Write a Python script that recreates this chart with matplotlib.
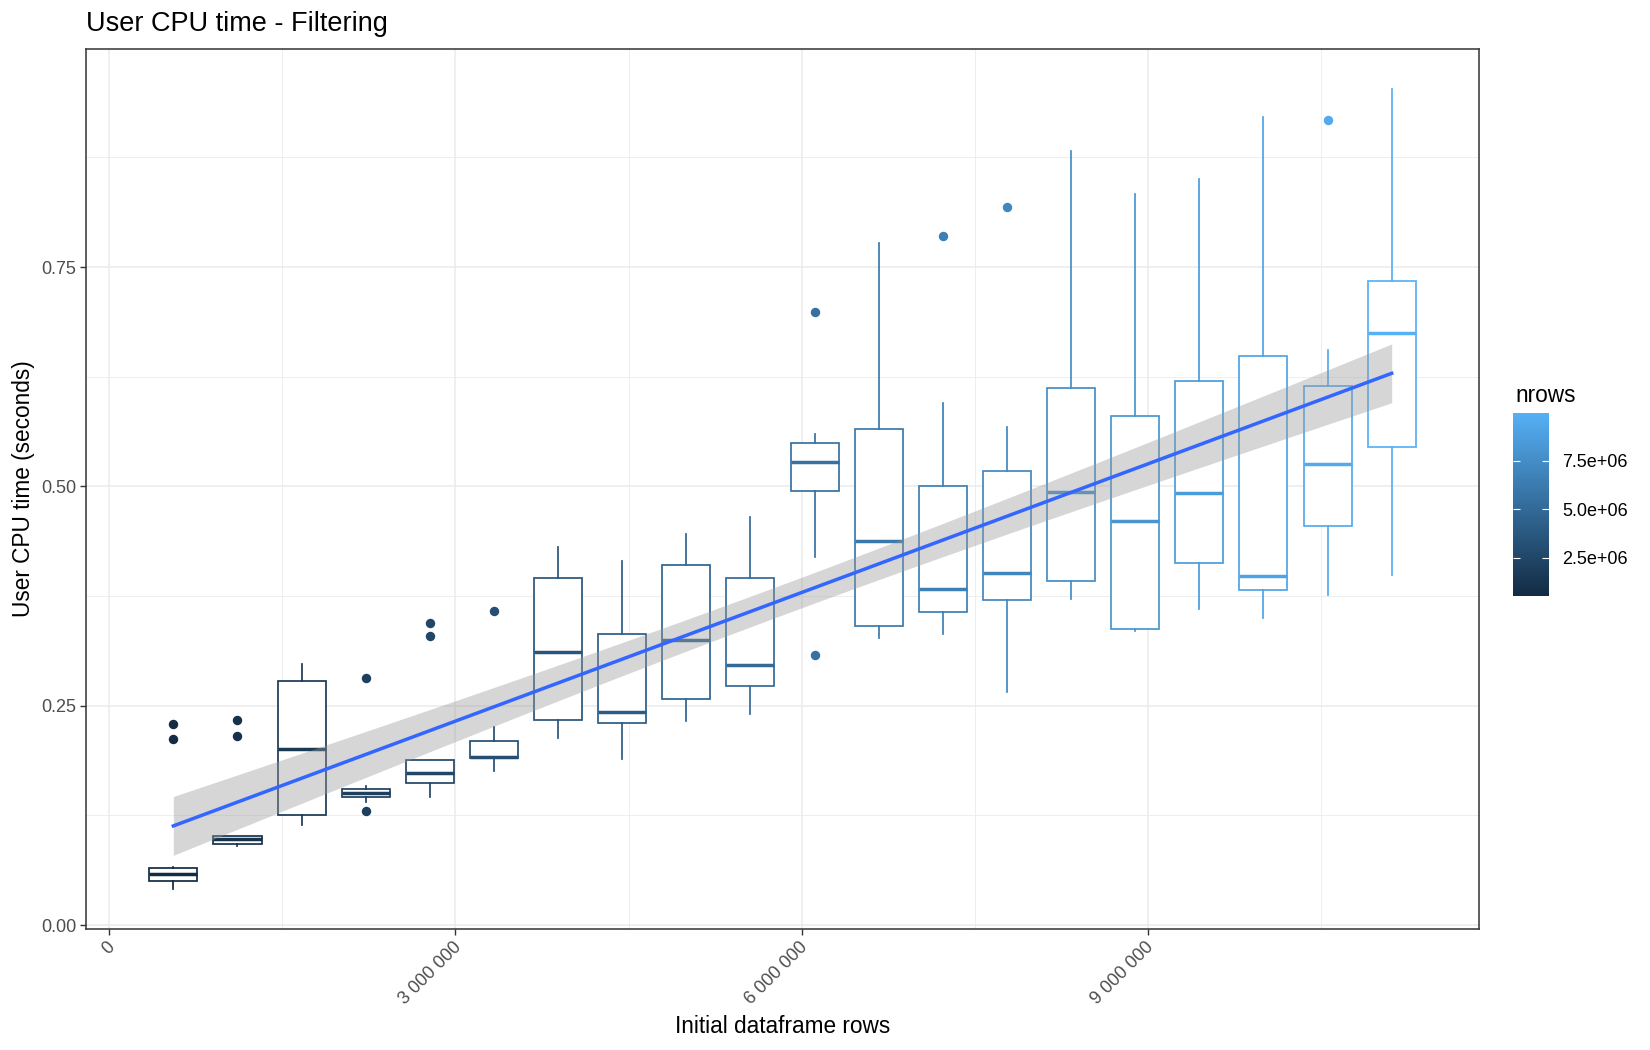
import numpy as np
import matplotlib.pyplot as plt
import matplotlib.colors as mcolors
import matplotlib.transforms as mtransforms
from matplotlib.ticker import FuncFormatter, FixedLocator

plt.rcParams['font.family'] = ['Liberation Sans', 'DejaVu Sans']

# rows kept after filtering (colour) and initial dataframe rows (x)
nrows = [500000, 1000000, 1500000, 2000000, 2500000, 3000000, 3500000,
         4000000, 4500000, 5000000, 5500000, 6000000, 6500000, 7000000,
         7500000, 8000000, 8500000, 9000000, 9500000, 10000000]
init_rows = [555556, 1111111, 1666667, 2222222, 2777778, 3333333, 3888889,
             4444444, 5000000, 5555556, 6111111, 6666667, 7222222, 7777778,
             8333333, 8888889, 9444444, 10000000, 10555556, 11111111]

# boxplot stats (seconds)
whis_lo = [0.041, 0.090, 0.114, 0.140, 0.146, 0.176, 0.213, 0.189, 0.233, 0.241,
           0.420, 0.327, 0.332, 0.266, 0.372, 0.335, 0.360, 0.350, 0.376, 0.399]
q1 = [0.050, 0.092, 0.125, 0.146, 0.162, 0.190, 0.234, 0.230, 0.258, 0.272,
      0.495, 0.341, 0.357, 0.370, 0.392, 0.338, 0.413, 0.382, 0.455, 0.545]
med = [0.058, 0.098, 0.201, 0.151, 0.173, 0.192, 0.311, 0.243, 0.325, 0.296,
       0.528, 0.438, 0.383, 0.401, 0.494, 0.461, 0.492, 0.398, 0.525, 0.675]
q3 = [0.065, 0.101, 0.278, 0.155, 0.188, 0.210, 0.396, 0.332, 0.410, 0.396,
      0.549, 0.566, 0.500, 0.517, 0.612, 0.580, 0.620, 0.649, 0.615, 0.734]
whis_hi = [0.066, 0.101, 0.297, 0.159, 0.188, 0.226, 0.431, 0.415, 0.446, 0.465,
           0.560, 0.778, 0.595, 0.568, 0.882, 0.833, 0.851, 0.921, 0.656, 0.953]
outliers = [[0.229, 0.212], [0.234, 0.215], [], [0.282, 0.130], [0.344, 0.330],
            [0.358], [], [], [], [], [0.699, 0.308], [], [0.786], [0.818],
            [], [], [], [], [0.918], []]

# linear smooth (x in millions of rows)
fit_intercept = 0.0858
fit_slope = 0.04888
fit_se_mid = 0.0174  # ribbon half-width at mean x

x_ticks = [0, 3000000, 6000000, 9000000]
x_minor = [1500000, 4500000, 7500000, 10500000]
y_ticks = [0.0, 0.25, 0.5, 0.75]
y_minor = [0.125, 0.375, 0.625, 0.875]
cbar_ticks = [2500000, 5000000, 7500000]

grey30 = '#4D4D4D'
grey20 = '#333333'

fig = plt.figure(figsize=(16.5, 10.5), dpi=100)
ax = fig.add_axes([0.0521, 0.1152, 0.8443, 0.8381])

cmap = mcolors.LinearSegmentedColormap.from_list('gg', ['#132B43', '#56B1F7'])
norm = mcolors.Normalize(min(nrows), max(nrows))

x = np.array(init_rows, dtype=float)
box_w = 0.75 * (x[1] - x[0])

stats = []
for i in range(len(x)):
    stats.append(dict(whislo=whis_lo[i], q1=q1[i], med=med[i], q3=q3[i],
                      whishi=whis_hi[i], fliers=outliers[i]))

bp = ax.bxp(stats, positions=x, widths=box_w, showcaps=False, patch_artist=True,
            manage_ticks=False,
            boxprops=dict(facecolor='white', linewidth=1.25),
            medianprops=dict(linewidth=2.5),
            whiskerprops=dict(linewidth=1.25),
            flierprops=dict(marker='o', markersize=6.8, markeredgewidth=0))

for i in range(len(x)):
    c = cmap(norm(nrows[i]))
    bp['boxes'][i].set_edgecolor(c)
    bp['medians'][i].set_color(c)
    bp['medians'][i].set_solid_capstyle('butt')
    bp['whiskers'][2 * i].set_color(c)
    bp['whiskers'][2 * i + 1].set_color(c)
    bp['fliers'][i].set_markerfacecolor(c)
    bp['fliers'][i].set_markeredgecolor(c)

# smooth line with confidence ribbon
xm = x / 1e6
xs = np.linspace(xm.min(), xm.max(), 100)
yfit = fit_intercept + fit_slope * xs
half = fit_se_mid * np.sqrt(1 + (xs - xm.mean()) ** 2 / xm.var())
ax.fill_between(xs * 1e6, yfit - half, yfit + half, color='#999999', alpha=0.4,
                linewidth=0, zorder=3)
ax.plot(xs * 1e6, yfit, color='#3366FF', linewidth=2.5, zorder=4)

# limits with ggplot-like 5% expansion
xlo, xhi = x.min() - box_w / 2, x.max() + box_w / 2
ylo = min(whis_lo)
yhi = max(whis_hi)
ax.set_xlim(xlo - 0.05 * (xhi - xlo), xhi + 0.05 * (xhi - xlo))
ax.set_ylim(ylo - 0.05 * (yhi - ylo), yhi + 0.05 * (yhi - ylo))

ax.xaxis.set_major_locator(FixedLocator(x_ticks))
ax.xaxis.set_minor_locator(FixedLocator(x_minor))
ax.yaxis.set_major_locator(FixedLocator(y_ticks))
ax.yaxis.set_minor_locator(FixedLocator(y_minor))
ax.xaxis.set_major_formatter(FuncFormatter(lambda v, p: f"{int(v):,}".replace(',', ' ')))
ax.yaxis.set_major_formatter(FuncFormatter(lambda v, p: f"{v:.2f}"))

ax.set_axisbelow(True)
ax.grid(which='major', color='#EBEBEB', linewidth=1.1)
ax.grid(which='minor', color='#EBEBEB', linewidth=0.6)
ax.tick_params(which='major', length=4, width=1.0, color=grey20,
               labelsize=13, labelcolor=grey30, pad=3)
ax.tick_params(which='minor', length=0)
for s in ax.spines.values():
    s.set_color(grey20)
    s.set_linewidth(1.1)

offset = mtransforms.ScaledTranslation(9 / 100, 0, fig.dpi_scale_trans)
for lab in ax.get_xticklabels():
    lab.set_rotation(45)
    lab.set_ha('right')
    lab.set_va('top')
    lab.set_transform(lab.get_transform() + offset)

ax.set_xlabel('Initial dataframe rows', fontsize=16.3, labelpad=5)
ax.set_ylabel('User CPU time (seconds)', fontsize=16.3, labelpad=4)
fig.text(86 / 1650, 1 - 31 / 1050, 'User CPU time - Filtering', fontsize=19.5,
         ha='left', va='baseline')

# colour bar legend
cax = fig.add_axes([0.9172, 0.4321, 0.0218, 0.1749])
grad = np.linspace(min(nrows), max(nrows), 256).reshape(-1, 1)
cax.imshow(grad, aspect='auto', cmap=cmap, norm=norm, origin='lower',
           extent=(0, 1, min(nrows), max(nrows)))
cax.set_xlim(0, 1)
cax.set_ylim(min(nrows), max(nrows))
cax.set_xticks([])
cax.yaxis.set_major_locator(FixedLocator(cbar_ticks))
cax.yaxis.set_major_formatter(FuncFormatter(lambda v, p: f"{v:.1e}"))
cax.tick_params(axis='y', direction='in', length=5.2, width=0.8, color='white',
                left=True, right=True, labelleft=False, labelright=True,
                labelsize=13, labelcolor='black', pad=9)
for s in cax.spines.values():
    s.set_visible(False)
fig.text(1515 / 1650, 1 - 402 / 1050, 'nrows', fontsize=16.3, ha='left',
         va='baseline')

fig.savefig('out.png', dpi=100)
